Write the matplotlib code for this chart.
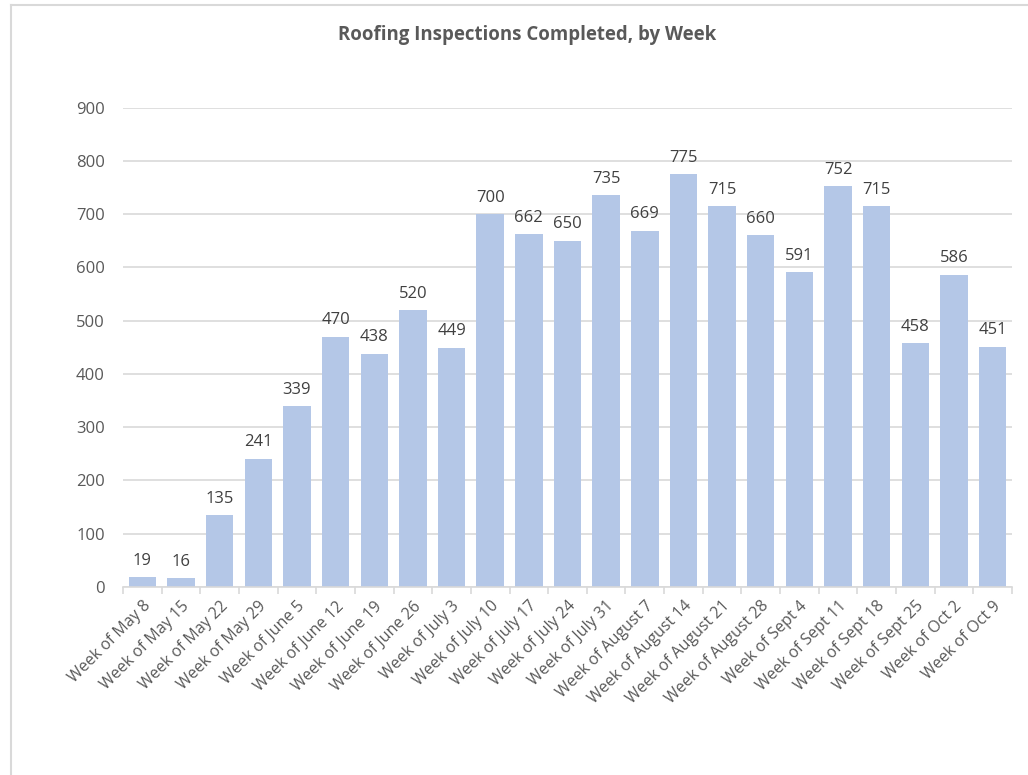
import matplotlib
matplotlib.use("Agg")
import matplotlib.pyplot as plt
from matplotlib.lines import Line2D
import numpy as np

weeks = ["Week of May 8", "Week of May 15", "Week of May 22", "Week of May 29",
         "Week of June 5", "Week of June 12", "Week of June 19", "Week of June 26",
         "Week of July 3", "Week of July 10", "Week of July 17", "Week of July 24",
         "Week of July 31", "Week of August 7", "Week of August 14", "Week of August 21",
         "Week of August 28", "Week of Sept 4", "Week of Sept 11", "Week of Sept 18",
         "Week of Sept 25", "Week of Oct 2", "Week of Oct 9"]
inspections = [19, 16, 135, 241, 339, 470, 438, 520, 449, 700, 662, 650, 735, 669,
               775, 715, 660, 591, 752, 715, 458, 586, 451]
yticks = [0, 100, 200, 300, 400, 500, 600, 700, 800, 900]

plt.rcParams['font.family'] = ['Open Sans', 'DejaVu Sans']
text_color = "#595959"
bar_color = "#b4c7e7"
grid_color = "#d9d9d9"

W, H = 1028, 775
fig = plt.figure(figsize=(W/100, H/100), dpi=100)
ax = fig.add_axes([123/W, 1-587/H, (1012-123)/W, (587-107.5)/H])

x = np.arange(len(weeks))
ax.bar(x, inspections, width=0.71, color=bar_color, zorder=2)
for xi, v in zip(x, inspections):
    ax.annotate(str(v), (xi, v), xytext=(0, 6), textcoords="offset points",
                ha="center", va="bottom", fontsize=12, color="#404040")

ax.set_xlim(-0.5, len(weeks) - 0.5)
ax.set_ylim(0, 900)
ax.set_yticks(yticks)
ax.set_yticklabels([str(t) for t in yticks])
ax.yaxis.grid(True, color=grid_color, linewidth=1.2, zorder=0)
ax.set_axisbelow(True)
for s in ["top", "right", "left"]:
    ax.spines[s].set_visible(False)
ax.spines["bottom"].set_color(grid_color)
ax.spines["bottom"].set_linewidth(1.2)
ax.tick_params(axis="y", length=0, pad=13, labelsize=12, labelcolor=text_color)

ax.set_xticks(x)
ax.set_xticklabels(weeks, rotation=45, ha="right", rotation_mode="anchor",
                   fontsize=11.5, color=text_color)
ax.tick_params(axis="x", which="major", length=0, pad=8)
ax.set_xticks(np.arange(-0.5, len(weeks) + 0.5, 1), minor=True)
ax.tick_params(axis="x", which="minor", length=5, color=grid_color, width=1.2)

fig.text(527/W, 1-35/H, "Roofing Inspections Completed, by Week", ha="center",
         va="center", fontsize=13.4, fontweight="bold", color=text_color)

# chart frame
fig.add_artist(Line2D([11/W, 11/W], [0, 1-4.5/H], color="#d9d9d9", linewidth=1.5))
fig.add_artist(Line2D([11/W, 1], [1-4.5/H, 1-4.5/H], color="#d9d9d9", linewidth=1.5))

fig.savefig("out.png", dpi=100)
